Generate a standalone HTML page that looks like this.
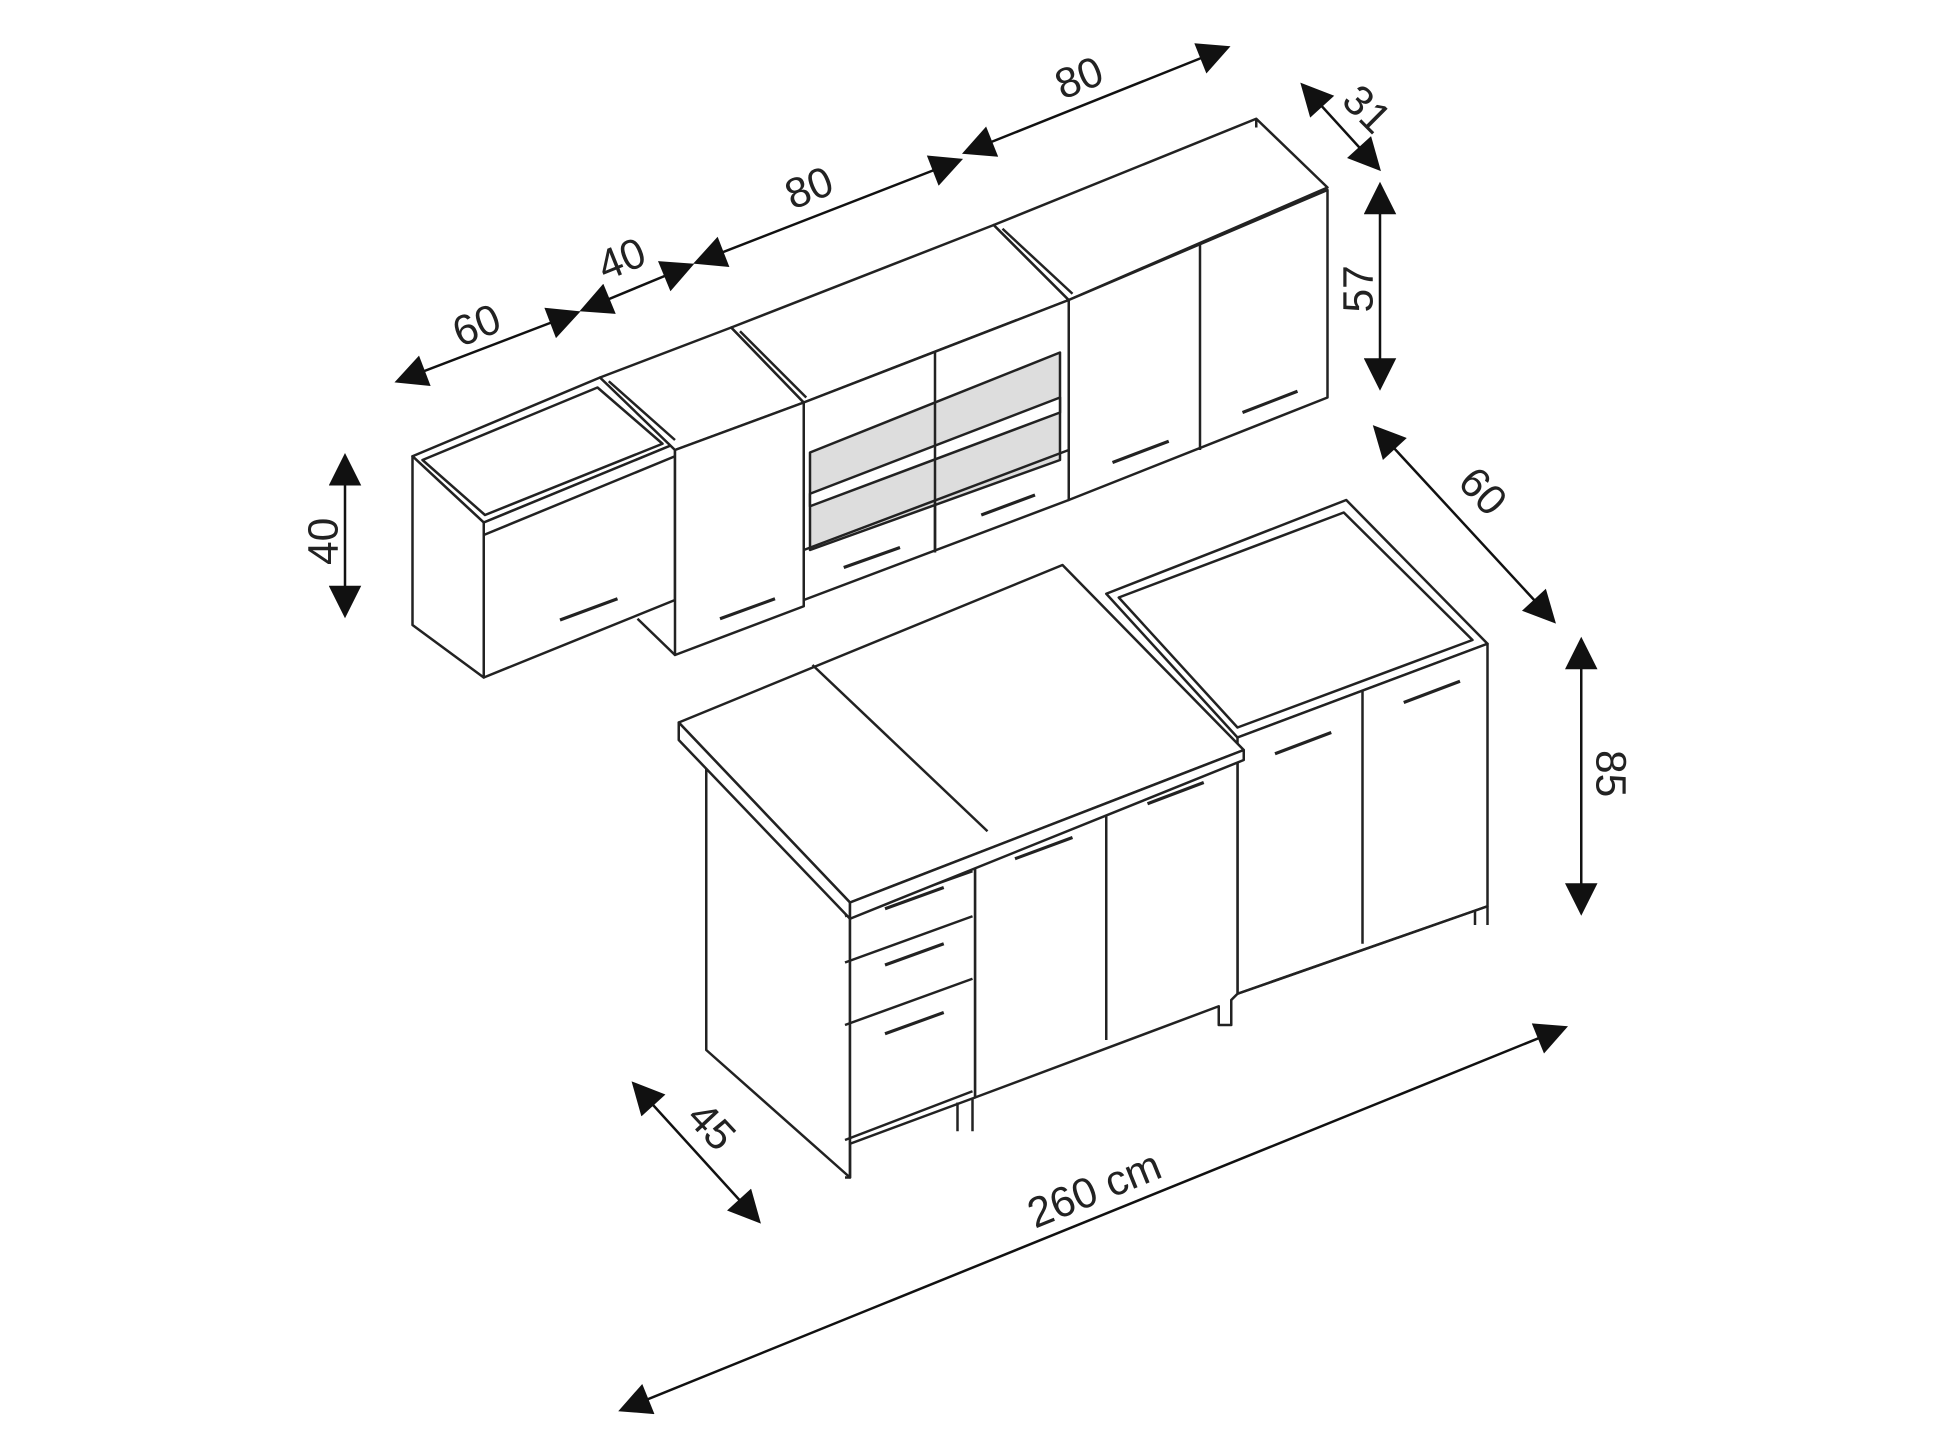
<!DOCTYPE html>
<html><head><meta charset="utf-8"><style>
html,body{margin:0;padding:0;background:#fff;}
svg{display:block}
text{font-family:"Liberation Sans",sans-serif;font-size:34px;fill:#222}
</style></head><body>
<svg width="1940" height="1455" viewBox="0 0 1552 1164" xmlns="http://www.w3.org/2000/svg">
<defs>
<marker id="a" viewBox="0 0 10 10" refX="9" refY="5" markerWidth="9" markerHeight="9" orient="auto-start-reverse" markerUnits="userSpaceOnUse"><path d="M0,0 L10,5 L0,10 z" fill="#111"/></marker>
<marker id="b" viewBox="0 0 10 10" refX="9" refY="5" markerWidth="34" markerHeight="26" orient="auto-start-reverse" markerUnits="userSpaceOnUse"><path d="M0,0 L10,5 L0,10 z" fill="#111"/></marker>
</defs>
<g fill="none" stroke="#222" stroke-width="2" stroke-linejoin="round">
<!-- upper left 60 -->
<polygon points="330,365 480,302 540,355 387,418" fill="#fff"/>
<polygon points="338,368 478,310 530,355 388,412"/>
<polygon points="330,365 387,418 387,542 330,500" fill="#fff"/>
<polygon points="387,418 540,355 540,480 387,542" fill="#fff"/>
<line x1="387" y1="428" x2="540" y2="365"/>
<!-- upper 40 -->
<polygon points="480,302 585,262 643,322 540,360" fill="#fff"/>
<line x1="487" y1="305" x2="540" y2="352"/>
<polygon points="540,360 643,322 643,485 540,524" fill="#fff"/>
<line x1="510" y1="495" x2="540" y2="524"/>
<!-- upper glass 80 -->
<polygon points="585,262 795,180 855,240 643,322" fill="#fff"/>
<line x1="592" y1="265" x2="645" y2="318"/>
<polygon points="643,322 855,240 855,400 643,480" fill="#fff"/>
<polygon points="648,362 848,282 848,368 648,440" fill="#ddd"/>
<polygon points="648,395 848,318 848,330 648,405" fill="#fff"/>
<line x1="748" y1="282" x2="748" y2="440"/>
<line x1="643" y1="440" x2="855" y2="360"/>
<line x1="748" y1="402" x2="748" y2="442"/>
<!-- upper 80 right -->
<polygon points="795,180 1005,95 1062,150 855,240" fill="#fff"/>
<line x1="802" y1="183" x2="858" y2="235"/>
<line x1="1005" y1="95" x2="1005" y2="102"/>
<polygon points="855,240 1062,152 1062,318 855,400" fill="#fff"/>
<line x1="960" y1="196" x2="960" y2="360"/>
<!-- handles upper -->
<g stroke-width="2.5">
<line x1="448" y1="496" x2="494" y2="479"/><line x1="576" y1="495" x2="620" y2="479"/>
<line x1="675" y1="454" x2="720" y2="438"/><line x1="785" y1="412" x2="828" y2="396"/>
<line x1="890" y1="370" x2="935" y2="353"/><line x1="994" y1="330" x2="1038" y2="313"/>
</g>
<!-- lower right (back) cabinet -->
<polygon points="885,475 1077,400 1190,515 990,590" fill="#fff"/>
<polygon points="895,478 1075,410 1178,512 990,582"/>
<polygon points="990,590 1190,515 1190,725 990,795" fill="#fff"/>
<line x1="1090" y1="552" x2="1090" y2="755"/>
<line x1="990" y1="795" x2="1190" y2="725"/>
<line x1="1180" y1="728" x2="1180" y2="740"/><line x1="1190" y1="725" x2="1190" y2="740"/>
<!-- lower middle cabinet -->
<polygon points="780,690 990,604 990,795 985,800 985,820 975,820 975,805 780,878" fill="#fff"/>
<line x1="885" y1="648" x2="885" y2="832"/>
<!-- left drawer unit -->
<polygon points="565,592 680,722 680,942 565,840" fill="#fff"/>
<polygon points="680,722 780,690 780,878 680,915" fill="#fff"/>
<line x1="676" y1="733" x2="778" y2="697"/>
<line x1="676" y1="770" x2="778" y2="733"/>
<line x1="676" y1="820" x2="778" y2="783"/>
<line x1="676" y1="912" x2="778" y2="873"/>
<polyline points="680,915 680,942 676,942"/>
<line x1="766" y1="882" x2="766" y2="905"/><line x1="778" y1="878" x2="778" y2="905"/>
<!-- countertop -->
<polygon points="543,578 850,452 995,600 680,722" fill="#fff"/>
<polygon points="543,578 680,722 680,735 543,592" fill="#fff"/>
<polygon points="680,722 995,600 995,608 680,735" fill="#fff"/>
<line x1="650" y1="532" x2="790" y2="665"/>
<!-- lower handles -->
<g stroke-width="2.5">
<line x1="708" y1="727" x2="755" y2="710"/><line x1="708" y1="772" x2="755" y2="755"/>
<line x1="708" y1="827" x2="755" y2="810"/><line x1="812" y1="687" x2="858" y2="670"/>
<line x1="918" y1="643" x2="963" y2="626"/><line x1="1020" y1="603" x2="1065" y2="586"/>
<line x1="1123" y1="562" x2="1168" y2="545"/>
</g>
</g>
<!-- dimension arrows -->
<g stroke="#111" stroke-width="2" marker-start="url(#b)" marker-end="url(#b)">
<line x1="318" y1="305" x2="462" y2="250"/>
<line x1="466" y1="248" x2="553" y2="212"/>
<line x1="557" y1="210" x2="768" y2="128"/>
<line x1="772" y1="122" x2="982" y2="38"/>
<line x1="1042" y1="68" x2="1103" y2="135"/>
<line x1="1104" y1="148" x2="1104" y2="310"/>
<line x1="276" y1="365" x2="276" y2="492"/>
<line x1="1100" y1="342" x2="1243" y2="497"/>
<line x1="1265" y1="512" x2="1265" y2="730"/>
<line x1="507" y1="867" x2="607" y2="977"/>
<line x1="497" y1="1128" x2="1252" y2="822"/>
</g>
<text transform="translate(368,278) rotate(-22)">60</text>
<text transform="translate(484,225) rotate(-22)">40</text>
<text transform="translate(634,168) rotate(-22)">80</text>
<text transform="translate(850,80) rotate(-22)">80</text>
<text transform="translate(1072,82) rotate(45)">31</text>
<text transform="translate(1098,250) rotate(-90)">57</text>
<text transform="translate(270,452) rotate(-90)">40</text>
<text transform="translate(1165,387) rotate(47)">60</text>
<text transform="translate(1277,600) rotate(90)">85</text>
<text transform="translate(548,895) rotate(47)">45</text>
<text transform="translate(828,983) rotate(-22)">260 cm</text>
</svg>
</body></html>
